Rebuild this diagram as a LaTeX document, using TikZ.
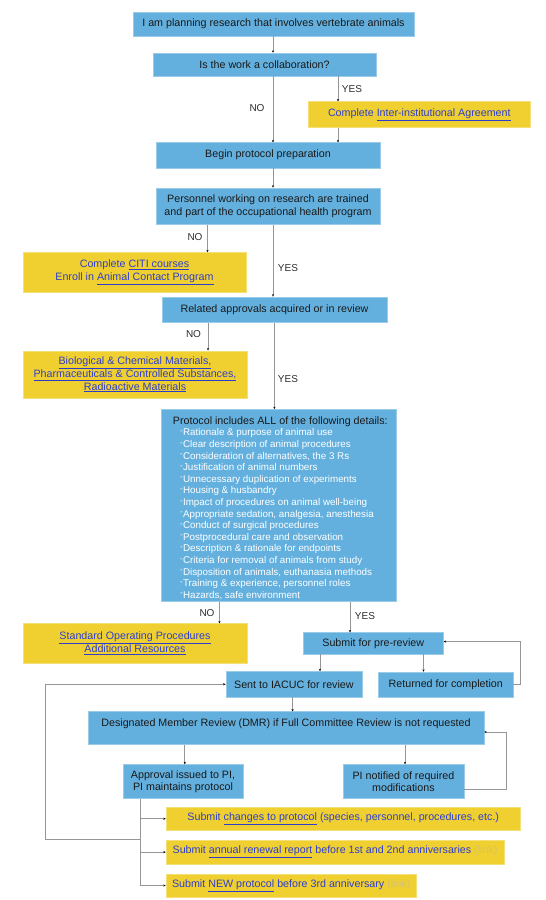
\documentclass[tikz,border=0pt]{standalone}
\usepackage{fontspec}
\setmainfont{Liberation Sans}
\usetikzlibrary{arrows.meta}
\definecolor{boxblue}{RGB}{99,176,222}
\definecolor{boxyel}{RGB}{240,208,48}
\definecolor{linkblue}{RGB}{45,62,205}
\definecolor{linegray}{RGB}{150,150,150}
\definecolor{fadelink}{RGB}{214,194,105}
\definecolor{lbl}{RGB}{45,45,45}
\newcommand{\lnk}[1]{\underline{#1}}
\newcommand{\bul}{\hspace*{7.3pt}\raisebox{2.4pt}{\fontsize{8}{8}\selectfont -}\kern0.2pt}
\tikzset{
 bbox/.style={fill=boxblue, draw=boxblue!65!white, line width=0.5pt, inner sep=0pt, align=center,
   font=\fontsize{10.7}{13.2}\selectfont, text=black!90},
 ybox/.style={fill=boxyel, draw=boxyel!65!white, line width=0.5pt, inner sep=0pt, align=center,
   font=\fontsize{10.7}{12.8}\selectfont, text=linkblue},
 conn/.style={draw=linegray, line width=0.9pt, -{Stealth[length=2.4pt,width=2.2pt,black]}},
 plain/.style={draw=linegray, line width=0.9pt},
 lab/.style={font=\fontsize{10}{12}\selectfont, text=lbl, inner sep=0pt},
}
\begin{document}
\begin{tikzpicture}[x=1pt,y=-1pt]
\useasboundingbox (0,0) rectangle (546,900);
\fill[white] (0,0) rectangle (546,900);

% boxes
\node[bbox, minimum width=281pt, minimum height=24pt] (b1) at (273.5,24) {I am planning research that involves vertebrate animals};
\node[bbox, minimum width=223pt, minimum height=23pt] (b2) at (264.5,64.5) {Is the work a collaboration?};
\node[ybox, minimum width=222.7pt, minimum height=26pt] (yIA) at (419.3,114.7) {Complete \lnk{Inter-institutional Agreement}};
\node[bbox, minimum width=224pt, minimum height=25.2pt] (b3) at (268,155.2) {Begin protocol preparation};
\node[bbox, minimum width=224pt, minimum height=36.7pt] (b4) at (268,206.2) {Personnel working on research are trained\\and part of the occupational health program};
\node[ybox, minimum width=223pt, minimum height=40.2pt] (yCITI) at (134.5,272.6) {Complete \lnk{CITI courses}\\Enroll in \lnk{Animal Contact Program}};
\node[bbox, minimum width=225pt, minimum height=25.6pt] (b5) at (274.5,309.6) {Related approvals acquired or in review};
\node[ybox, minimum width=224pt, minimum height=47.3pt] (yBio) at (135,374.4) {\lnk{Biological \& Chemical Materials,}\\\lnk{Pharmaceuticals \& Controlled Substances,}\\\lnk{Radioactive Materials}};
\node[bbox, minimum width=235pt, minimum height=192.4pt] (b6) at (279.2,505.5) {};
\node[anchor=north west, inner sep=0pt, align=left, font=\fontsize{9.8}{11.6}\selectfont, text=white] (b6t) at (172.7,416.4)
 {{\fontsize{10.7}{11.6}\selectfont\color{black!90}Protocol includes ALL of the following details:}\\
 \bul Rationale \& purpose of animal use\\
 \bul Clear description of animal procedures\\
 \bul Consideration of alternatives, the 3 Rs\\
 \bul Justification of animal numbers\\
 \bul Unnecessary duplication of experiments\\
 \bul Housing \& husbandry\\
 \bul Impact of procedures on animal well-being\\
 \bul Appropriate sedation, analgesia, anesthesia\\
 \bul Conduct of surgical procedures\\
 \bul Postprocedural care and observation\\
 \bul Description \& rationale for endpoints\\
 \bul Criteria for removal of animals from study\\
 \bul Disposition of animals, euthanasia methods\\
 \bul Training \& experience, personnel roles\\
 \bul Hazards, safe environment};
\node[ybox, minimum width=224pt, minimum height=39.2pt] (ySOP) at (135,643.2) {\lnk{Standard Operating Procedures}\\\lnk{Additional Resources}};
\node[bbox, minimum width=140.5pt, minimum height=21.3pt] (b7) at (373.25,643.35) {Submit for pre-review};
\node[bbox, minimum width=136.2pt, minimum height=25.5pt] (b8) at (293.9,684.25) {Sent to IACUC for review};
\node[bbox, minimum width=134.1pt, minimum height=24.8pt] (b9) at (445.75,684.4) {Returned for completion};
\node[bbox, minimum width=396pt, minimum height=32.6pt, text height=8pt, text depth=12pt] (b10) at (286,728) {Designated Member Review (DMR) if Full Committee Review is not requested};
\node[bbox, minimum width=120pt, minimum height=34pt, font=\fontsize{10.7}{12.4}\selectfont] (b11) at (183,781.5) {Approval issued to PI,\\PI maintains protocol};
\node[bbox, minimum width=120.8pt, minimum height=34pt, font=\fontsize{10.7}{12.4}\selectfont] (b12) at (403.4,781.5) {PI notified of required\\modifications};
\node[ybox, minimum width=354.5pt, minimum height=23.8pt] (yA) at (343.25,818.7) {Submit \lnk{changes to protocol} (species, personnel, procedures, etc.)};
\node[ybox, minimum width=338pt, minimum height=23.5pt] (yB) at (335,852.15) {Submit \lnk{annual renewal report} before 1st and 2nd anniversaries {\color{fadelink}(link)}};
\node[ybox, minimum width=250.5pt, minimum height=23pt] (yC) at (291.25,885.5) {Submit \lnk{NEW protocol} before 3rd anniversary {\color{fadelink}(link)}};

% connectors
\draw[conn] (273,0 |- b1.south) -- (273,0 |- b2.north);
\draw[conn] (273,0 |- b2.south) -- (273,0 |- b3.north);
\draw[conn] (338,0 |- b2.south) -- (338,0 |- yIA.north);
\draw[conn] (338,0 |- yIA.south) -- (338,0 |- b3.north);
\draw[conn] (273,0 |- b3.south) -- (273,0 |- b4.north);
\draw[conn] (207.5,0 |- b4.south) -- (207.5,0 |- yCITI.north);
\draw[conn] (273,0 |- b4.south) -- (273,0 |- b5.north);
\draw[conn] (208,0 |- b5.south) -- (208,0 |- yBio.north);
\draw[conn] (274.4,0 |- b5.south) -- (274.4,0 |- b6.north);
\draw[conn] (219.5,0 |- b6.south) -- (219.5,0 |- ySOP.north);
\draw[conn] (350,0 |- b6.south) -- (350,0 |- b7.north);
\draw[conn] (320,0 |- b7.south) -- (320,0 |- b8.north);
\draw[conn] (423.5,0 |- b7.south) -- (423.5,0 |- b9.north);
\coordinate (r9) at (520.5,684.4);
\draw[conn] (b9.east) -- (r9) |- ([yshift=1.8pt]b7.east);
\draw[conn] (292.6,0 |- b8.south) -- (292.6,0 |- b10.north);
\draw[conn] (184.8,0 |- b10.south) -- (184.8,0 |- b11.north);
\draw[conn] (405,0 |- b10.south) -- (405,0 |- b12.north);
\coordinate (r12) at (506.5,789);
\draw[conn] (b12.east |- r12) -- (r12) |- ([yshift=-4pt]b10.east);
\draw[plain] (140.4,0 |- b11.south) -- (140.4,0 |- yC.west);
\draw[conn] (140.4,0 |- yA.west) -- (yA.west);
\draw[conn] (140.4,0 |- yB.west) -- (yB.west);
\draw[conn] (140.4,0 |- yC.west) -- (yC.west);
\coordinate (jn) at (140.4,839.4);
\draw[conn] (jn) -- (45.5,839.4) |- (b8.west);

% labels
\node[lab] (n1) at (257,108) {NO};
\node[lab] (y1) at (352,89) {YES};
\node[lab] (n2) at (195,237.5) {NO};
\node[lab] (y2) at (288,268) {YES};
\node[lab] (n3) at (193.5,334) {NO};
\node[lab] (y3) at (288,379) {YES};
\node[lab] (n4) at (207,613) {NO};
\node[lab] (y4) at (365,616) {YES};
\end{tikzpicture}
\end{document}
